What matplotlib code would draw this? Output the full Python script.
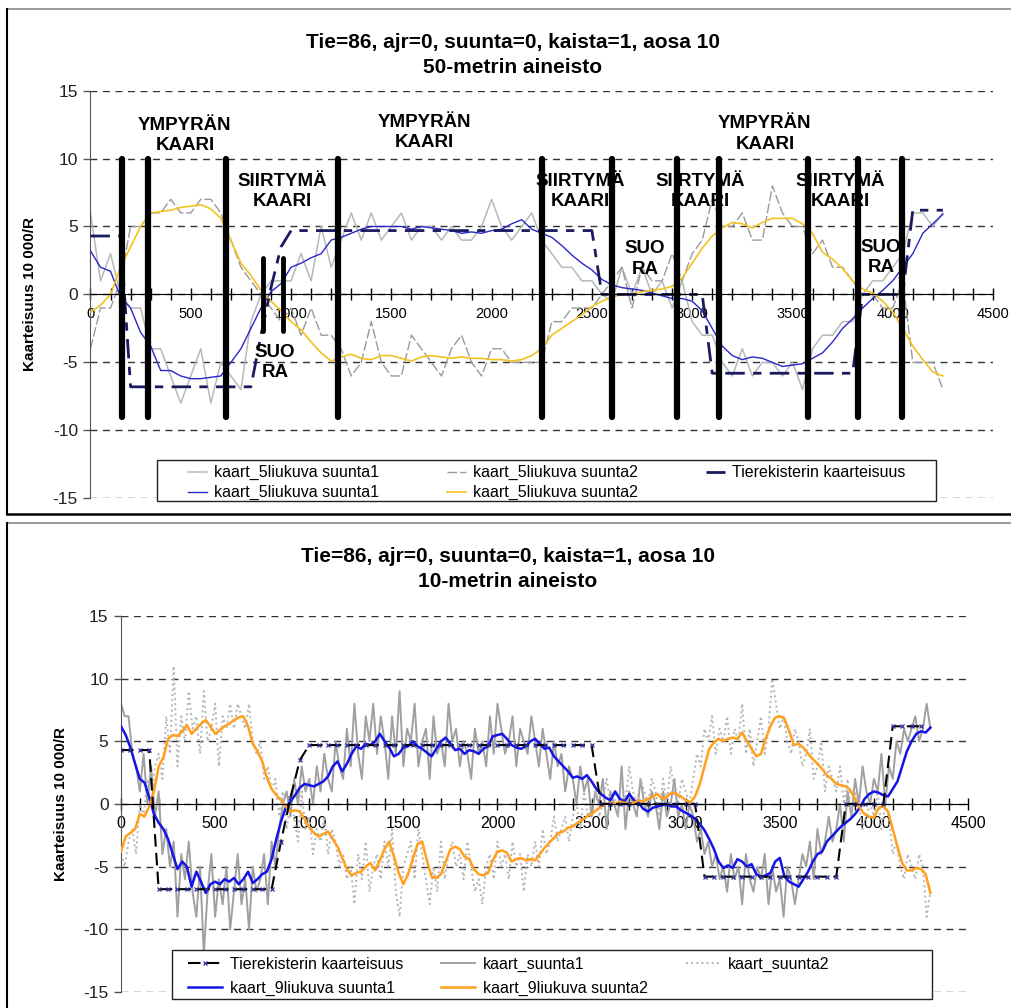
import numpy as np
import matplotlib
matplotlib.use("Agg")
import matplotlib.pyplot as plt
from matplotlib.lines import Line2D
from matplotlib.patches import Rectangle
from matplotlib.ticker import MultipleLocator

plt.rcParams['font.family'] = ['Liberation Sans', 'DejaVu Sans']
plt.rcParams['axes.unicode_minus'] = False

# --- 50-metrin aineisto (0..4250 m) ---
x50 = np.arange(0, 4251, 50)
kaart5_s1_raw = [6, 1, 3, 0, -1, -1, -4, -4, -6, -8,
                 -6, -4, -8, -5, -6, -7, -2, 0, 1, 1,
                 1, 3, 1, 5, 2, 4, 6, 4, 6, 4,
                 5, 6, 4, 5, 5, 4, 5, 4, 4, 5,
                 7, 5, 4, 5, 6, 4, 3, 2, 2, 1,
                 1, 0, -0.5, 2, 0, 2, 0, 1, -1, 1,
                 -2, -3, -3, -5, -6, -4, -6, -5, -5, -6,
                 -5, -7, -4, -3, -3, -2, -2, 0, 1, 1,
                 2, 3, 6, 6, 5, 6]
kaart5_s2_raw = [-4, -1, -1, 1, 5, 5, 6, 6, 7, 6,
                 6, 7, 7, 6, 4, 2, 1, 0, -1, -2,
                 -1, -3, -1, -3, -3, -4, -6, -5, -2, -5,
                 -6, -6, -3, -4, -5, -6, -4, -3, -5, -6,
                 -4, -4, -5, -5, -5, -5, -2, -2, -1, -1,
                 -1, 0, 1, 2, -1, 2, 1, 1, 3, 1,
                 3, 4, 7, 5, 5, 6, 4, 4, 8, 6,
                 5, 5, 3, 4, 2, 2, 1, 0, 0, -1,
                 -1, 1, -5, -5, -5, -7]
kaart5_s1 = [3.2, 2.0, 1.7, -0.2, -1.0, -2.8, -3.8, -5.6, -5.6, -6.0,
             -6.2, -6.2, -6.1, -6.0, -5.0, -4.0, -2.5, -1.0, 0.2, 0.8,
             2.0, 2.3, 2.7, 3.0, 4.0, 4.2, 4.5, 4.8, 5.0, 5.0,
             5.0, 5.0, 4.8, 5.0, 4.9, 4.8, 4.7, 4.5, 4.6, 4.5,
             4.7, 4.8, 5.2, 5.5, 4.8, 4.5, 4.2, 3.6, 2.9, 2.3,
             1.8, 1.1, 0.7, 0.5, 0.4, 0.3, 0.1, -0.1, -0.3, -0.3,
             -0.5, -1.2, -2.5, -3.8, -4.5, -4.8, -4.6, -4.7, -5.0, -5.3,
             -5.2, -5.1, -4.7, -4.3, -3.5, -2.5, -1.8, -1.0, -0.3, 0.3,
             1.0, 2.0, 3.0, 4.5, 5.2, 5.9]
kaart5_s2 = [-1.3, -0.8, 0.0, 2.0, 3.5, 5.0, 6.0, 6.1, 6.2, 6.4,
             6.5, 6.6, 6.3, 5.6, 4.0, 2.3, 1.4, 0.3, -0.5, -1.2,
             -2.0, -2.6, -3.5, -4.3, -4.9, -4.6, -4.4, -4.7, -4.8, -4.5,
             -4.5, -4.7, -4.9, -4.6, -4.5, -4.6, -4.7, -4.6, -4.7, -4.7,
             -4.8, -4.8, -4.9, -4.8, -4.5, -4.0, -3.0, -2.5, -2.0, -1.5,
             -0.9, -0.5, -0.2, 0.0, 0.0, 0.2, 0.3, 0.4, 0.6, 1.2,
             2.3, 3.4, 4.3, 4.9, 5.3, 5.2, 4.9, 5.3, 5.6, 5.6,
             5.6, 5.2, 4.5, 3.1, 2.6, 1.9, 1.0, 0.4, 0.1, -0.5,
             -1.3, -2.5, -3.8, -4.8, -5.7, -6.0]
tierekisteri = [4.3, 4.3, 4.3, 4.3, -6.8, -6.8, -6.8, -6.8, -6.8, -6.8,
                -6.8, -6.8, -6.8, -6.8, -6.8, -6.8, -6.8, -3.0, 0.5, 3.5,
                4.7, 4.7, 4.7, 4.7, 4.7, 4.7, 4.7, 4.7, 4.7, 4.7,
                4.7, 4.7, 4.7, 4.7, 4.7, 4.7, 4.7, 4.7, 4.7, 4.7,
                4.7, 4.7, 4.7, 4.7, 4.7, 4.7, 4.7, 4.7, 4.7, 4.7,
                4.7, 0.0, 0.0, 0.0, 0.0, 0.0, 0.0, 0.0, 0.0, 0.0,
                0.0, 0.0, -5.8, -5.8, -5.8, -5.8, -5.8, -5.8, -5.8, -5.8,
                -5.8, -5.8, -5.8, -5.8, -5.8, -5.8, -5.8, 0.0, 0.0, 0.0,
                0.0, 0.0, 6.2, 6.2, 6.2, 6.2]

# geometric elements (m)
rajat = [157, 287, 676, 1234, 2251, 2600, 2924, 3134, 3578, 3827, 4046]
rajat_lyhyet = [860, 960]
osuudet = [("YMPYRÄN\nKAARI", 471, 11.7), ("SIIRTYMÄ\nKAARI", 955, 7.6),
           ("SUO\nRA", 920, -5.0), ("YMPYRÄN\nKAARI", 1663, 11.9),
           ("SIIRTYMÄ\nKAARI", 2441, 7.6), ("SUO\nRA", 2765, 2.6),
           ("SIIRTYMÄ\nKAARI", 3039, 7.6), ("YMPYRÄN\nKAARI", 3363, 11.8),
           ("SIIRTYMÄ\nKAARI", 3737, 7.6), ("SUO\nRA", 3941, 2.7)]

# --- 10-metrin aineisto ---
x20 = np.arange(0, 4301, 20)
kaart_s1 = [8, 7, 7, 4, 3, 1, 4, 0, 3, -1,
            1, -4, -2, -5, -3, -9, -4, -6, -3, -7,
            -9, -5, -12, -7, -4, -9, -6, -8, -5, -10,
            -7, -4, -8, -6, -10, -5, -7, -6, -4, -8,
            -3, -5, -2, 0, 1, -1, 2, 0, 3, 1,
            2, 0, 3, 1, 4, 2, 1, 5, 3, 2,
            6, 3, 8, 4, 2, 7, 5, 8, 4, 7,
            5, 2, 7, 4, 9, 3, 6, 5, 8, 3,
            5, 6, 2, 7, 4, 5, 3, 8, 5, 6,
            3, 5, 4, 2, 6, 4, 5, 3, 7, 4,
            8, 6, 4, 5, 7, 3, 6, 5, 4, 7,
            5, 3, 6, 4, 2, 5, 3, 4, 1, 3,
            2, 0, 3, 1, 2, -1, 1, 0, 2, -2,
            1, 0, -1, 3, -2, 1, 0, -1, 2, 0,
            -1, 1, 0, -2, 1, -1, 0, 2, -1, 0,
            -2, 0, -1, -3, -2, -4, -3, -5, -4, -6,
            -5, -7, -4, -6, -5, -8, -4, -6, -7, -5,
            -6, -4, -8, -5, -7, -6, -9, -5, -6, -8,
            -6, -4, -5, -3, -6, -2, -4, -3, -1, -3,
            -2, 0, -3, 1, -1, 2, 0, 3, 1, 0,
            2, 1, 4, 0, 3, 2, 5, 4, 6, 5,
            6, 7, 5, 6, 8, 6]
kaart_s2 = [-4, -5, -3, -2, -4, 0, -1, 2, 0, 3,
            4, 2, 7, 4, 11, 3, 7, 5, 9, 6,
            7, 4, 9, 5, 6, 8, 3, 7, 6, 8,
            6, 8, 7, 6, 8, 5, 4, 5, 2, 3,
            1, 2, -1, 1, -2, 0, -1, -3, 1, -2,
            -1, -4, -2, -3, -1, -4, -2, -3, -5, -4,
            -6, -5, -8, -4, -6, -3, -7, -5, -4, -6,
            -3, -5, -2, -7, -9, -5, -4, -3, -6, -2,
            -4, -6, -8, -5, -7, -3, -6, -4, -3, -5,
            -4, -6, -3, -5, -7, -6, -8, -5, -4, -6,
            -3, -5, -4, -6, -3, -5, -4, -7, -4, -5,
            -3, -5, -2, -4, -3, -1, -3, -2, -1, -3,
            -1, 0, -2, 1, -1, 0, 1, -1, 0, 2,
            0, 1, -1, 2, 0, 3, 1, 0, 2, 1,
            0, 2, 1, -1, 2, 0, 3, 1, 0, 2,
            1, 0, 2, 4, 3, 6, 5, 7, 4, 6,
            5, 7, 4, 6, 5, 8, 4, 6, 3, 5,
            7, 4, 6, 10, 8, 6, 7, 5, 4, 6,
            5, 3, 4, 6, 2, 3, 5, 1, 3, 2,
            1, 3, 0, 2, -1, 1, 0, -2, -1, 0,
            -1, 1, -2, 0, -1, -4, -3, -5, -6, -4,
            -5, -6, -4, -5, -9, -7]

x25 = np.arange(0, 4301, 25)
kaart9_s1 = [6.2, 5.5, 4.5, 3.2, 2.0, 1.7, 0.5, -0.8,
             -1.5, -2.0, -2.8, -4.0, -5.2, -4.6, -5.0, -6.6,
             -5.4, -6.2, -7.1, -6.4, -6.2, -6.4, -6.0, -6.2,
             -5.9, -6.4, -6.0, -5.4, -6.3, -6.0, -5.6, -5.4,
             -4.4, -2.8, -1.4, -0.3, 0.2, 0.7, 1.3, 1.6,
             1.5, 1.4, 1.6, 1.8, 2.2, 3.0, 3.4, 2.6,
             3.2, 4.0, 4.6, 4.4, 4.8, 4.7, 5.0, 5.6,
             5.0, 4.5, 3.8, 4.0, 4.5, 4.6, 5.0, 4.6,
             4.4, 4.1, 3.8, 4.4, 5.0, 5.3, 4.8, 4.3,
             4.4, 4.0, 4.3, 4.2, 4.0, 4.4, 4.6, 5.4,
             5.5, 5.6, 5.2, 4.7, 4.5, 4.4, 4.6, 5.0,
             5.2, 4.8, 4.4, 4.5, 3.8, 3.4, 3.0, 2.6,
             2.1, 2.2, 2.0, 2.3, 1.8, 1.2, 0.8, 0.5,
             0.3, 1.0, 0.4, 0.2, 0.8, 0.3, 0.1, -0.4,
             -0.6, -0.3, -0.2, -0.1, 0.0, -0.2, -0.2, -0.5,
             -0.7, -0.9, -1.2, -1.6, -2.1, -2.8, -3.6, -4.6,
             -5.1, -4.9, -5.1, -4.4, -4.6, -5.0, -4.8, -5.6,
             -5.8, -5.7, -5.5, -4.6, -4.3, -5.8, -6.2, -6.4,
             -6.6, -6.0, -5.4, -4.6, -4.0, -3.8, -3.0, -2.6,
             -2.2, -1.8, -1.5, -1.2, -0.8, -0.3, 0.4, 0.8,
             1.0, 0.9, 0.7, 0.6, 1.2, 1.8, 3.0, 4.2,
             5.0, 5.6, 5.8, 5.7, 6.1]
kaart9_s2 = [-3.8, -2.6, -2.3, -2.0, -0.8, -1.0, -0.2, 1.0,
             3.0, 3.7, 5.2, 5.5, 5.4, 5.8, 6.3, 5.6,
             6.0, 6.4, 6.7, 6.2, 5.6, 5.9, 6.2, 6.4,
             6.7, 6.9, 7.0, 6.2, 4.8, 4.2, 3.4, 2.1,
             1.2, 0.7, 0.3, -0.2, -0.6, -0.5, -0.6, -1.2,
             -1.9, -2.3, -2.6, -2.4, -2.2, -2.8, -3.4, -4.3,
             -5.2, -5.7, -5.5, -5.4, -5.0, -4.7, -5.3, -4.5,
             -3.6, -3.0, -4.2, -5.5, -6.4, -5.6, -4.4, -3.2,
             -3.0, -4.5, -5.8, -5.9, -5.6, -4.6, -3.6, -3.4,
             -3.6, -4.2, -4.4, -5.2, -5.6, -5.7, -5.5, -4.5,
             -3.8, -3.7, -3.9, -4.6, -4.4, -4.3, -4.5, -4.4,
             -4.5, -4.0, -3.5, -3.1, -2.7, -2.3, -2.2, -1.9,
             -1.8, -1.5, -1.3, -1.0, -0.8, -0.5, -0.2, 0.0,
             0.1, 0.0, 0.2, 0.1, 0.0, 0.1, 0.3, 0.2,
             0.4, 0.6, 0.8, 0.4, 0.6, 0.9, 0.8, 0.6,
             0.3, 0.1, 0.6, 1.6, 3.0, 4.4, 4.9, 5.2,
             5.0, 5.2, 5.3, 5.2, 5.7, 5.0, 4.4, 3.8,
             4.0, 5.2, 6.2, 6.9, 7.0, 6.8, 5.8, 4.7,
             4.8, 4.5, 4.0, 3.6, 3.2, 2.8, 2.3, 2.0,
             1.6, 1.5, 1.4, 1.1, 0.4, -0.3, -0.8, -1.0,
             -1.1, -0.3, -0.2, -0.6, -2.0, -3.4, -4.7, -5.3,
             -5.3, -5.1, -5.2, -5.6, -7.1]

otsikko = "Tie=86, ajr=0, suunta=0, kaista=1, aosa 10"
ylabel = "Kaarteisuus 10 000/R"


def muotoile(ax, ytick_size, xtick_size):
    ax.set_xlim(0, 4500)
    ax.set_ylim(-15, 15)
    ax.spines['top'].set_visible(False)
    ax.spines['right'].set_visible(False)
    ax.spines['bottom'].set_position(('data', 0))
    ax.spines['bottom'].set_zorder(4)
    ax.spines['left'].set_color('#555555')
    ax.xaxis.set_major_locator(MultipleLocator(500))
    ax.xaxis.set_minor_locator(MultipleLocator(100))
    ax.yaxis.set_major_locator(MultipleLocator(5))
    ax.tick_params(axis='x', which='both', direction='inout', length=8,
                   width=1, labelsize=xtick_size, pad=5)
    ax.tick_params(axis='y', direction='out', length=5, width=1,
                   color='#555555', labelsize=ytick_size, pad=4,
                   labelcolor='#222222')
    ax.grid(axis='y', linestyle=(0, (5, 4)), color='#333333', lw=1)
    ax.set_axisbelow(True)


def selite(ax, kahvat, nimet, laatikko, ankkuri, **kw):
    # legend without its own frame, plus a fixed-size box behind it
    x0, y0, x1, y1 = laatikko
    ax.add_patch(Rectangle((x0, y0), x1 - x0, y1 - y0, transform=ax.transAxes,
                           facecolor='white', edgecolor='#222222', lw=1,
                           clip_on=False, zorder=7))
    leg = ax.legend(kahvat, nimet, ncol=3, loc='upper left',
                    bbox_to_anchor=ankkuri, frameon=False, borderpad=0,
                    borderaxespad=0, fontsize=11.5, **kw)
    leg.set_zorder(8)
    return leg


fig = plt.figure(figsize=(10.11, 10.08), dpi=100)

# ---------------- ylempi kuva: 50 m ----------------
ax1 = fig.add_axes([0.0895, 0.5057, 0.8927, 0.4044])
muotoile(ax1, 12.5, 10.5)
l1, = ax1.plot(x50, kaart5_s1_raw, color='#b8b8b8', lw=1.1, zorder=2)
l3, = ax1.plot(x50, kaart5_s2_raw, color='#9a9a9a', lw=1.0,
               linestyle=(0, (7, 2)), zorder=2)
l2, = ax1.plot(x50, kaart5_s1, color='#2828c8', lw=1.0, zorder=3)
l4, = ax1.plot(x50, kaart5_s2, color='#f2c21e', lw=1.2, zorder=3)
l5, = ax1.plot(x50, tierekisteri, color='#1a1a60', lw=2.0,
               linestyle=(0, (7, 3, 3, 3)), zorder=3)

for teksti, tx, ty in osuudet:
    ax1.text(tx, ty, teksti, ha='center', va='center', fontsize=13.5,
             fontweight='bold', linespacing=1.25, zorder=5)
for r in rajat:
    ax1.plot([r, r], [-9, 10], color='black', lw=4.5,
             solid_capstyle='round', zorder=6)
for r in rajat_lyhyet:
    ax1.plot([r, r], [-2.7, 2.7], color='black', lw=3.5,
             solid_capstyle='round', zorder=6)

ax1.set_ylabel(ylabel, fontsize=11, fontweight='bold')
ax1.yaxis.set_label_coords(-0.059, 0.5)
selite(ax1, [l1, l2, l3, l4, l5],
       ["kaart_5liukuva suunta1", "kaart_5liukuva suunta1",
        "kaart_5liukuva suunta2", "kaart_5liukuva suunta2",
        "Tierekisterin kaarteisuus"],
       (0.0737, -0.0066, 0.937, 0.094), (0.108, 0.081),
       handlelength=1.2, handletextpad=0.4, labelspacing=0.3,
       columnspacing=4.3)

fig.text(0.507, 0.958, otsikko, ha='center', va='center', fontsize=15,
         fontweight='bold')
fig.text(0.507, 0.9335, "50-metrin aineisto", ha='center', va='center',
         fontsize=15, fontweight='bold')

# ---------------- alempi kuva: 10 m ----------------
ax2 = fig.add_axes([0.1197, 0.0159, 0.8378, 0.373])
muotoile(ax2, 12.5, 11.5)
m2, = ax2.plot(x20, kaart_s1, color='#a0a0a0', lw=1.4, zorder=2)
m3, = ax2.plot(x20, kaart_s2, color='#b4b4b4', lw=1.4, linestyle=':',
               zorder=2)
m4, = ax2.plot(x25, kaart9_s1, color='#1414e6', lw=1.8, zorder=3)
m5, = ax2.plot(x25, kaart9_s2, color='#ffa01e', lw=1.8, zorder=3)
m1, = ax2.plot(x50, tierekisteri, color='black', lw=1.5,
               linestyle=(0, (6, 3)), marker='x', markersize=3.5,
               markeredgecolor='#3030a0', markeredgewidth=0.9, zorder=4)

ax2.set_ylabel(ylabel, fontsize=11, fontweight='bold')
ax2.yaxis.set_label_coords(-0.063, 0.5)
selite(ax2, [m1, m4, m2, m5, m3],
       ["Tierekisterin kaarteisuus", "kaart_9liukuva suunta1",
        "kaart_suunta1", "kaart_9liukuva suunta2", "kaart_suunta2"],
       (0.0602, -0.0186, 0.9575, 0.1117), (0.0791, 0.093),
       handlelength=2.1, handletextpad=0.5, labelspacing=0.55,
       columnspacing=2.4)

fig.text(0.502, 0.4475, otsikko, ha='center', va='center', fontsize=15,
         fontweight='bold')
fig.text(0.502, 0.4235, "10-metrin aineisto", ha='center', va='center',
         fontsize=15, fontweight='bold')

# kehykset
fx = 7 / 1011
fig.add_artist(Line2D([fx, 1], [0.991, 0.991], transform=fig.transFigure,
                      color='#888888', lw=1.2))
fig.add_artist(Line2D([fx, fx], [0.490, 0.991], transform=fig.transFigure,
                      color='black', lw=1.5))
fig.add_artist(Line2D([fx, 1], [0.490, 0.490], transform=fig.transFigure,
                      color='black', lw=1.8))
fig.add_artist(Line2D([fx, 1], [0.481, 0.481], transform=fig.transFigure,
                      color='#888888', lw=1.2))
fig.add_artist(Line2D([fx, fx], [0.0, 0.481], transform=fig.transFigure,
                      color='black', lw=1.5))

fig.savefig("out.png", dpi=100)
